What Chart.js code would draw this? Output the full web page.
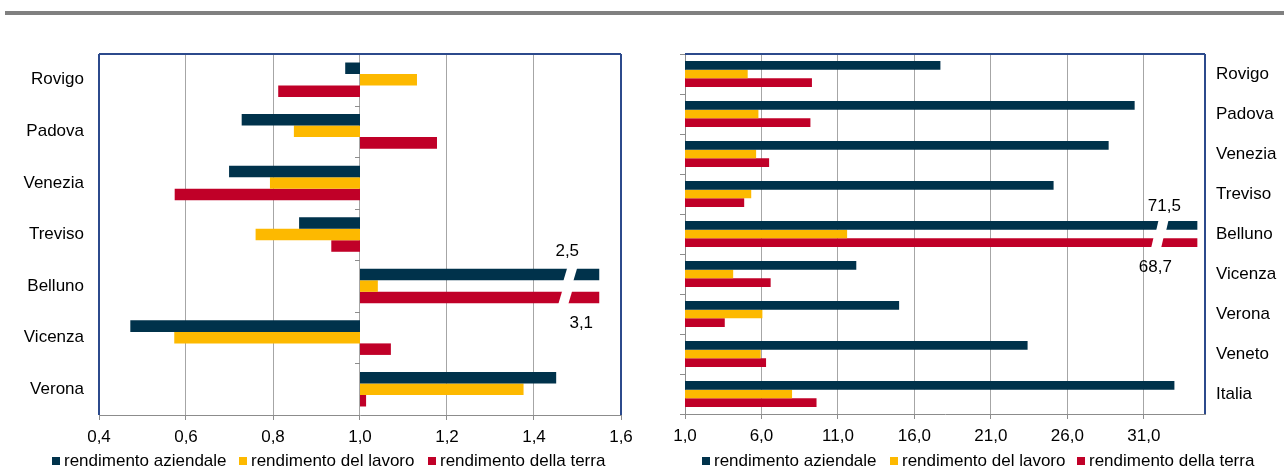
<!DOCTYPE html>
<html><head><meta charset="utf-8">
<script src="https://cdn.jsdelivr.net/npm/chart.js@4.4.1/dist/chart.umd.min.js"></script>
<style>
html,body{margin:0;padding:0;background:#fff;}
body{width:1284px;height:471px;position:relative;overflow:hidden;font-family:"Liberation Sans",Arial,sans-serif;}
#rule{position:absolute;left:5px;top:11px;width:1279px;height:4px;background:#808080;}
.wrap{position:absolute;top:0;height:471px;}
#w1{left:0;width:640px;} #w2{left:640px;width:644px;}
.lg{position:absolute;top:451px;font-size:17px;line-height:20px;color:#000;white-space:nowrap;}
.lg i{display:inline-block;width:8px;height:8px;margin-right:4px;vertical-align:1px;}
</style></head>
<body>
<div id="rule"></div>
<div class="wrap" id="w1"><canvas id="c1" width="640" height="471"></canvas></div>
<div class="wrap" id="w2"><canvas id="c2" width="644" height="471"></canvas></div>
<div class="lg" style="left:52px"><i style="background:#00324B"></i>rendimento aziendale</div>
<div class="lg" style="left:239px"><i style="background:#FDB900"></i>rendimento del lavoro</div>
<div class="lg" style="left:428px"><i style="background:#C00028"></i>rendimento della terra</div>
<div class="lg" style="left:702px"><i style="background:#00324B"></i>rendimento aziendale</div>
<div class="lg" style="left:890px"><i style="background:#FDB900"></i>rendimento del lavoro</div>
<div class="lg" style="left:1077px"><i style="background:#C00028"></i>rendimento della terra</div>
<script>
// ---- data ----
const seriesNames = ['rendimento aziendale','rendimento del lavoro','rendimento della terra'];

const leftCats = ['Rovigo','Padova','Venezia','Treviso','Belluno','Vicenza','Verona'];
const leftAziendale = [0.966,0.728,0.699,0.860,2.5,0.472,1.451];
const leftLavoro    = [1.131,0.848,0.793,0.760,1.041,0.573,1.376];
const leftTerra     = [0.812,1.177,0.574,0.934,3.1,1.071,1.014];
const leftTicks = [0.4,0.6,0.8,1.0,1.2,1.4,1.6];

const rightCats = ['Rovigo','Padova','Venezia','Treviso','Belluno','Vicenza','Verona','Veneto','Italia'];
const rightAziendale = [17.7,30.4,28.7,25.1,71.5,12.2,15.0,23.4,33.0];
const rightLavoro    = [5.1,5.8,5.65,5.33,11.6,4.15,6.06,5.95,8.0];
const rightTerra     = [9.3,9.2,6.5,4.87,68.7,6.6,3.6,6.3,9.6];
const rightTicks = [1,6,11,16,21,26,31];

// ---- styling ----
const C_AZ = '#00324B', C_LAV = '#FDB900', C_TER = '#C00028';
const BLUE = '#2C4A8C', GRID = '#a6a6a6', AXIS = '#8c8c8c';
const FONT = {family:'"Liberation Sans", Arial, sans-serif', size:17};
const fmt = v => Number(v).toFixed(1).replace('.', ',');

const L = {base:1.0, cap:1.55, min:0.4, max:1.6};
const R = {base:1.0, cap:34.5, min:1, max:35};

function mk(arr, cfg){ return arr.map(v => [cfg.base, Math.min(v, cfg.cap)]); }

function drawBreak(ctx, bar, offset, gap, slant){
  const cx = bar.x - offset;
  const h = bar.height;
  const t = bar.y - h/2 - 1, b = bar.y + h/2 + 1;
  ctx.save();
  ctx.fillStyle = '#fff';
  ctx.beginPath();
  ctx.moveTo(cx - gap/2 + slant/2, t);
  ctx.lineTo(cx + gap/2 + slant/2, t);
  ctx.lineTo(cx + gap/2 - slant/2, b);
  ctx.lineTo(cx - gap/2 - slant/2, b);
  ctx.closePath();
  ctx.fill();
  ctx.restore();
}
function txt(ctx, s, x, y){
  ctx.save();
  ctx.font = FONT.size + 'px ' + FONT.family;
  ctx.fillStyle = '#000';
  ctx.textAlign = 'center';
  ctx.textBaseline = 'middle';
  ctx.fillText(s, x, y);
  ctx.restore();
}
function frame(ctx, a, sides){
  ctx.save();
  ctx.strokeStyle = BLUE; ctx.lineWidth = 2;
  ctx.beginPath();
  if (sides.includes('t')) { ctx.moveTo(a.left, a.top); ctx.lineTo(a.right, a.top); }
  if (sides.includes('l')) { ctx.moveTo(a.left, a.top); ctx.lineTo(a.left, a.bottom); }
  if (sides.includes('r')) { ctx.moveTo(a.right, a.top); ctx.lineTo(a.right, a.bottom); }
  ctx.stroke();
  ctx.restore();
}

const leftDecor = {
  id:'leftDecor',
  afterDatasetsDraw(chart){
    const ctx = chart.ctx, a = chart.chartArea;
    const x1 = chart.scales.x.getPixelForValue(L.base);
    const n = leftCats.length;
    ctx.save();
    ctx.strokeStyle = AXIS; ctx.lineWidth = 1;
    ctx.beginPath();
    for (let i = 0; i <= n; i++){
      const y = Math.round(a.top + i*(a.bottom - a.top)/n) + 0.5;
      ctx.moveTo(x1 - 5, y); ctx.lineTo(x1, y);
    }
    ctx.stroke();
    ctx.restore();
    frame(ctx, a, 'tlr');
    const bi = leftCats.indexOf('Belluno');
    const az = chart.getDatasetMeta(0).data[bi];
    const te = chart.getDatasetMeta(2).data[bi];
    drawBreak(ctx, az, 29, 10, 4);
    drawBreak(ctx, te, 34, 10, 4);
    txt(ctx, fmt(leftAziendale[bi]), az.x - 32, az.y - az.height/2 - 17);
    txt(ctx, fmt(leftTerra[bi]), te.x - 18, te.y + te.height/2 + 20);
  }
};
const rightDecor = {
  id:'rightDecor',
  afterDatasetsDraw(chart){
    const ctx = chart.ctx, a = chart.chartArea;
    frame(ctx, a, 'tr');
    const bi = rightCats.indexOf('Belluno');
    const az = chart.getDatasetMeta(0).data[bi];
    const te = chart.getDatasetMeta(2).data[bi];
    drawBreak(ctx, az, 35, 10, 2.5);
    drawBreak(ctx, te, 40, 10, 2.5);
    txt(ctx, fmt(rightAziendale[bi]), az.x - 33, az.y - az.height/2 - 15);
    txt(ctx, fmt(rightTerra[bi]), te.x - 42, te.y + te.height/2 + 20);
  }
};

Chart.defaults.font.family = FONT.family;
Chart.defaults.font.size = FONT.size;
Chart.defaults.color = '#000';

new Chart(document.getElementById('c1'), {
  type:'bar',
  data:{labels:leftCats, datasets:[
    {label:seriesNames[0], data:mk(leftAziendale, L), backgroundColor:C_AZ},
    {label:seriesNames[1], data:mk(leftLavoro, L), backgroundColor:C_LAV},
    {label:seriesNames[2], data:mk(leftTerra, L), backgroundColor:C_TER}
  ]},
  options:{
    indexAxis:'y', responsive:false, animation:false,
    layout:{padding:{top:54, right:19, left:0, bottom:0}},
    plugins:{legend:{display:false}, tooltip:{enabled:false}},
    datasets:{bar:{categoryPercentage:0.67, barPercentage:1.0, borderWidth:0, borderSkipped:false}},
    scales:{
      x:{min:L.min, max:L.max,
         afterBuildTicks:s=>{ s.ticks = leftTicks.map(v=>({value:v})); },
         afterFit:s=>{ s.height = 56; },
         grid:{color:GRID, lineWidth:1, tickLength:5, tickColor:AXIS},
         border:{color:AXIS, width:1},
         ticks:{padding:7, font:FONT, color:'#000', callback:v=>fmt(v)}},
      y:{afterFit:s=>{ s.width = 99; },
         grid:{display:false, drawTicks:false},
         border:{display:false},
         ticks:{padding:15, font:FONT, color:'#000'}}
    }
  },
  plugins:[leftDecor]
});

new Chart(document.getElementById('c2'), {
  type:'bar',
  data:{labels:rightCats, datasets:[
    {label:seriesNames[0], data:mk(rightAziendale, R), backgroundColor:C_AZ},
    {label:seriesNames[1], data:mk(rightLavoro, R), backgroundColor:C_LAV},
    {label:seriesNames[2], data:mk(rightTerra, R), backgroundColor:C_TER}
  ]},
  options:{
    indexAxis:'y', responsive:false, animation:false,
    layout:{padding:{top:54, right:0, left:0, bottom:0}},
    plugins:{legend:{display:false}, tooltip:{enabled:false}},
    datasets:{bar:{categoryPercentage:0.65, barPercentage:1.0, borderWidth:0, borderSkipped:false}},
    scales:{
      x:{min:R.min, max:R.max,
         afterBuildTicks:s=>{ s.ticks = rightTicks.map(v=>({value:v})); },
         afterFit:s=>{ s.height = 57; },
         grid:{color:GRID, lineWidth:1, tickLength:5, tickColor:AXIS},
         border:{color:AXIS, width:1},
         ticks:{padding:7, font:FONT, color:'#000', callback:v=>fmt(v)}},
      y:{position:'right',
         afterFit:s=>{ s.width = 79; },
         grid:{display:false, drawTicks:false},
         border:{display:false},
         ticks:{padding:11, font:FONT, color:'#000'}},
      y2:{type:'category', position:'left', offset:true,
         afterFit:s=>{ s.width = 45; },
         grid:{offset:true, drawOnChartArea:false, tickLength:5, color:AXIS},
         border:{color:AXIS, width:1},
         ticks:{display:false}}
    }
  },
  plugins:[rightDecor]
});
</script>
</body></html>
